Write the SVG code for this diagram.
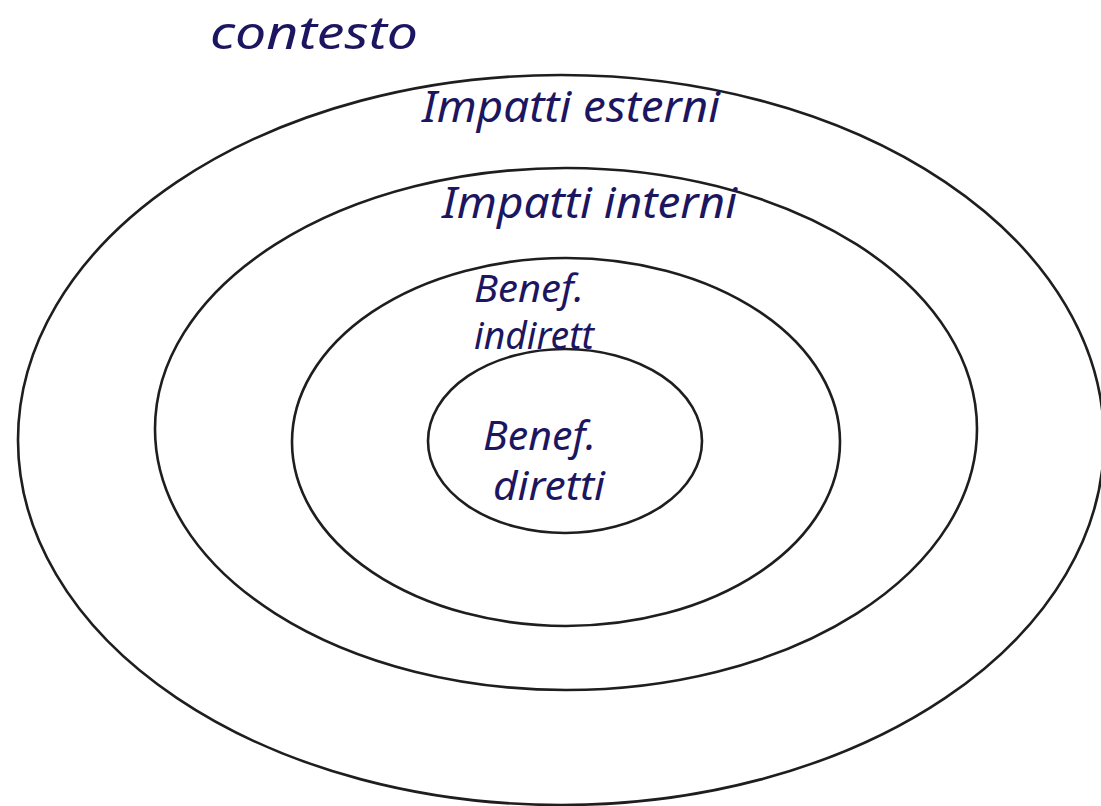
<svg xmlns="http://www.w3.org/2000/svg" width="1101" height="806" viewBox="0 0 1101 806">
<style>
.ring{fill:none;stroke:#1e1e1e;stroke-width:2.6}
.lbl{font-family:"Noto Sans","Open Sans",sans-serif;font-style:italic;fill:#1c1660}
</style>
<rect width="1101" height="806" fill="#ffffff"/>
<g id="ring-outer"><ellipse class="ring" cx="561" cy="440" rx="543" ry="365"/></g>
<g id="ring-2"><ellipse class="ring" cx="566" cy="429" rx="411" ry="261"/></g>
<g id="ring-3"><ellipse class="ring" cx="566" cy="442" rx="274" ry="184"/></g>
<g id="ring-inner"><ellipse class="ring" cx="565" cy="441" rx="137" ry="92"/></g>
<g id="connectors"></g>
<g id="labels">
<text class="lbl" x="210" y="49" font-size="46" textLength="208" lengthAdjust="spacingAndGlyphs">contesto</text>
<text class="lbl" x="422" y="122" font-size="44" textLength="298" lengthAdjust="spacingAndGlyphs">Impatti esterni</text>
<text class="lbl" x="442" y="218" font-size="44" textLength="295" lengthAdjust="spacingAndGlyphs">Impatti interni</text>
<text class="lbl" font-size="38"><tspan x="474" y="302" textLength="110" lengthAdjust="spacingAndGlyphs">Benef.</tspan><tspan x="474" y="349" textLength="120" lengthAdjust="spacingAndGlyphs">indirett</tspan></text>
<text class="lbl" font-size="40"><tspan x="483" y="450" textLength="113" lengthAdjust="spacingAndGlyphs">Benef.</tspan><tspan x="493" y="500" textLength="112" lengthAdjust="spacingAndGlyphs">diretti</tspan></text>
</g>
</svg>
